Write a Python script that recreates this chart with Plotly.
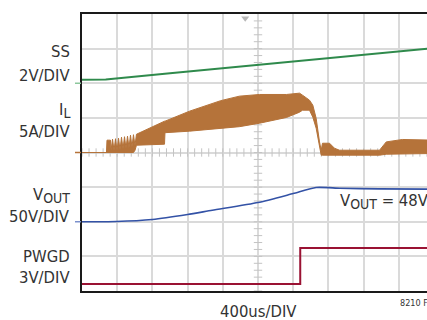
import plotly.graph_objects as go

# ---------------- data (physical units) ----------------
# time in ms (400us/DIV)
ss_t = [0.0, 0.27, 1.0, 2.0, 3.0, 4.0]
ss_v = [0.20, 0.22, 0.575, 1.06, 1.55, 2.03]          # volts

il_t = [0.0, 0.278, 0.284, 0.324, 0.330, 0.347, 0.364, 0.381, 0.398, 0.415, 0.432,
        0.449, 0.466, 0.483, 0.500, 0.517, 0.534, 0.551, 0.568, 0.585, 0.602,
        0.619, 0.9375, 0.943, 1.222, 1.577, 1.790, 2.017, 2.324, 2.472, 2.506,
        2.585, 2.623, 2.661, 2.699, 2.718, 2.733, 2.813, 2.869, 2.926, 3.381,
        3.457, 3.642, 3.915, 4.006]
il_hi = [0.0, 0.0, 1.78, 1.78, 0.3, 1.92, 0.3, 1.99, 0.3, 2.07, 0.4,
         2.21, 0.5, 2.28, 0.6, 2.36, 0.7, 2.50, 0.8, 2.57, 1.0,
         2.64, 4.52, 4.52, 5.97, 7.49, 8.14, 8.38, 8.38, 8.57, 8.28,
         7.56, 6.83, 4.94, 1.53, 0.33, 1.34, 1.34, 0.62, 0.33, 0.33,
         1.53, 1.88, 1.78, 1.78]
il_lo = [0.0, 0.0, 0.0, 0.0, 0.0, 0.0, 0.0, 0.0, 0.0, 0.0, 0.0,
         0.0, 0.0, 0.0, 0.0, 0.0, 0.0, 0.0, 0.0, 0.0, 0.3,
         1.05, 1.20, 2.86, 3.08, 3.47, 3.73, 4.23, 5.06, 5.82, 6.11,
         6.11, 5.10, 3.51, 0.62, -0.39, -0.39, -0.39, -0.39, -0.39, -0.39,
         -0.25, -0.17, -0.14, -0.14]                       # amps

vout_t = [0.0, 0.39, 0.80, 1.20, 1.48, 2.00, 2.40, 2.66, 2.93, 3.38, 4.0]
vout_v = [0.0, 0.3, 3.2, 10.4, 16.6, 27.7, 40.7, 49.4, 48.4, 47.5, 47.0]   # volts

pwgd_t = [0.0, 2.48, 2.48, 4.0]
pwgd_v = [0.0, 0.0, 3.13, 3.13]                                       # volts

# channel settings: (offset in divisions, units per division)
SS_OFF, SS_SC = 6.0, 2.0
IL_OFF, IL_SC = 4.0, 5.0
VO_OFF, VO_SC = 2.0, 50.0
PG_OFF, PG_SC = 0.2, 3.0

SUB = '<sub><span style="font-size:14px">{}</span></sub>'
labels = ["SS", "2V/DIV", "I" + SUB.format("L"), "5A/DIV", "V" + SUB.format("OUT"),
          "50V/DIV", "PWGD", "3V/DIV"]
xlabel = "400us/DIV"
note = "V" + SUB.format("OUT") + " = 48V"
figid = "8210 F05"

# ---------------- styling ----------------
GREEN = "#2f8a4c"
ORANGE = "#b5733a"
BLUE = "#3352a6"
RED = "#9a1233"
FONT = "Liberation Sans Narrow, DejaVu Sans Condensed, Liberation Sans, sans-serif"
FS = 16.5
TXT = "#333333"

W, H = 427, 320
ML, MT, MB, MR = 82, 14, 29, 0
PW, PH = W - ML - MR, H - MT - MB
DIV_PX = 35.2
XMAX = 0.4 * PW / DIV_PX


def px(x):
    return (x - ML) / PW


def py(y):
    return (H - MB - y) / PH


def scale(vals, off, sc):
    return [off + v / sc for v in vals]


fig = go.Figure()

# minor ticks along centre lines
fig.add_trace(go.Scatter(x=[0.08 * k for k in range(0, 50)], y=[4] * 50, mode="markers",
                         marker=dict(symbol="line-ns", size=6, line=dict(width=1, color="#c4c4c4")),
                         hoverinfo="skip", showlegend=False))
fig.add_trace(go.Scatter(x=[2.0] * 40, y=[0.2 * k for k in range(0, 40)], mode="markers",
                         marker=dict(symbol="line-ew", size=6, line=dict(width=1, color="#c4c4c4")),
                         hoverinfo="skip", showlegend=False))

# SS
fig.add_trace(go.Scatter(x=ss_t, y=scale(ss_v, SS_OFF, SS_SC), mode="lines",
                         line=dict(color=GREEN, width=2), showlegend=False))
# IL envelope
fig.add_trace(go.Scatter(x=il_t, y=scale(il_lo, IL_OFF, IL_SC), mode="lines",
                         line=dict(color=ORANGE, width=1), showlegend=False))
fig.add_trace(go.Scatter(x=il_t, y=scale(il_hi, IL_OFF, IL_SC), mode="lines",
                         line=dict(color=ORANGE, width=1), fill="tonexty",
                         fillcolor=ORANGE, showlegend=False))
# VOUT
fig.add_trace(go.Scatter(x=vout_t, y=scale(vout_v, VO_OFF, VO_SC), mode="lines",
                         line=dict(color=BLUE, width=1.6, shape="spline", smoothing=0.6),
                         showlegend=False))
# PWGD
fig.add_trace(go.Scatter(x=pwgd_t, y=scale(pwgd_v, PG_OFF, PG_SC), mode="lines",
                         line=dict(color=RED, width=2), showlegend=False))

# trigger marker
fig.add_trace(go.Scatter(x=[1.855], y=[7.88], mode="markers",
                         marker=dict(symbol="triangle-down", size=7, color="#b8b8b8"),
                         showlegend=False))

# channel ground markers
shapes = []
for off, col in [(SS_OFF, "#8cc79c"), (IL_OFF, ORANGE), (VO_OFF, "#7b90cc")]:
    shapes.append(dict(type="line", xref="paper", yref="y", x0=px(75), x1=px(81),
                       y0=off, y1=off, line=dict(color=col, width=1.5)))

ann = []
lab_y = [52, 75, 110.5, 131, 195.5, 216.5, 256, 277]
for t, y in zip(labels, lab_y):
    ann.append(dict(text=t, x=px(72), y=py(y), xref="paper", yref="paper",
                    xanchor="right", yanchor="middle", showarrow=False,
                    font=dict(family=FONT, size=FS, color=TXT)))
ann.append(dict(text=note, x=px(338), y=py(201), xref="paper", yref="paper",
                xanchor="left", yanchor="middle", showarrow=False,
                font=dict(family=FONT, size=FS, color=TXT)))
ann.append(dict(text=xlabel, x=px(258), y=py(311), xref="paper", yref="paper",
                xanchor="center", yanchor="middle", showarrow=False,
                font=dict(family=FONT, size=FS, color=TXT)))
ann.append(dict(text=figid, x=px(398), y=py(303), xref="paper", yref="paper",
                xanchor="left", yanchor="middle", showarrow=False,
                font=dict(family=FONT, size=9, color=TXT)))

fig.update_layout(
    width=W, height=H, autosize=False,
    margin=dict(l=ML, r=MR, t=MT, b=MB, pad=0),
    paper_bgcolor="white", plot_bgcolor="white",
    showlegend=False, shapes=shapes, annotations=ann,
    xaxis=dict(range=[0, XMAX], dtick=0.4, tick0=0, showgrid=True, gridcolor="#dadada",
               gridwidth=2, zeroline=False, showticklabels=False, ticks="",
               showline=True, mirror=True, linecolor="#1a1a1a", linewidth=2),
    yaxis=dict(range=[0, 8], dtick=1, tick0=0, showgrid=True, gridcolor="#dadada",
               gridwidth=2, zeroline=False, showticklabels=False, ticks="",
               showline=True, mirror=False, linecolor="#1a1a1a", linewidth=2),
)

fig.write_html("out.html", config={"displayModeBar": False},
               post_script="document.body.style.margin='0';document.body.style.overflow='hidden';")
